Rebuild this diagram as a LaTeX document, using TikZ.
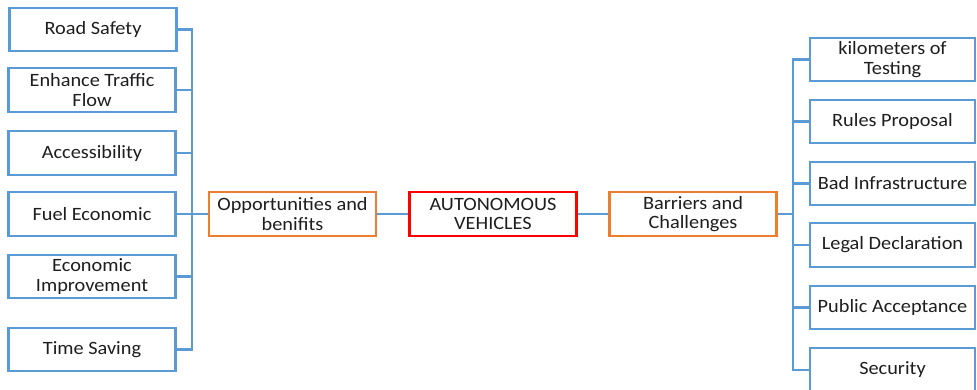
\documentclass[tikz,border=0pt]{standalone}
\usepackage{fontspec}
\setmainfont{Carlito}[FakeStretch=1.08]
\definecolor{leafblue}{HTML}{5B9BD5}
\definecolor{huborange}{HTML}{ED7D31}
\definecolor{rootred}{HTML}{FF0000}
\definecolor{txt}{HTML}{1E1E1E}
\begin{document}
\begin{tikzpicture}[x=1pt,y=-1pt,
  box/.style={draw, line width=2.4pt, fill=white, align=center, text=txt,
    font=\fontsize{18.8}{19.5}\selectfont, inner sep=0pt,
    minimum width=#1, minimum height=43.5},
  box/.default=167,
  leaf/.style={box, draw=leafblue},
  hub/.style={box, draw=huborange},
  root/.style={box, draw=rootred},
  conn/.style={draw=leafblue, line width=2.4pt}]
\useasboundingbox (0,0) rectangle (977,389);

% connectors first, so the boxes sit on top of them
\coordinate (lbus) at (192,214);
\coordinate (rbus) at (793,214);

% left branch: benefits
\node[leaf] (rs)  at (93,29.5)  {Road Safety};
\node[leaf] (etf) at (92,90)    {Enhance Traffic\\Flow};
\node[leaf] (acc) at (92,153)   {Accessibility};
\node[leaf] (fe)  at (92,214)   {Fuel Economic};
\node[leaf] (ei)  at (92,276.5) {Economic\\Improvement};
\node[leaf] (ts)  at (92,349.5) {Time Saving};

% centre chain
\node[hub]  (opp)  at (292.5,214) {Opportunities and\\benifits};
\node[root] (av)   at (493,214)   {AUTONOMOUS\\VEHICLES};
\node[hub]  (barr) at (693,214)   {Barriers and\\Challenges};

% right branch: barriers
\node[leaf, minimum width=165] (km) at (892.5,59.5)  {kilometers of\\Testing};
\node[leaf, minimum width=165] (rp) at (892.5,121.5) {Rules Proposal};
\node[leaf, minimum width=165] (bi) at (892.5,183.5) {Bad Infrastructure};
\node[leaf, minimum width=165] (ld) at (892.5,245)   {Legal Declaration};
\node[leaf, minimum width=165] (pa) at (892.5,307.5) {Public Acceptance};
\node[leaf, minimum width=165] (sec) at (892.5,370)  {Security};

\foreach \n in {rs,etf,acc,fe,ei,ts}
  \draw[conn] (\n.east) -| (lbus);
\draw[conn] (lbus) -- (opp.west);
\draw[conn] (opp.east) -- (av.west);
\draw[conn] (av.east) -- (barr.west);
\draw[conn] (barr.east) -- (rbus);
\foreach \n in {km,rp,bi,ld,pa,sec}
  \draw[conn] (rbus) |- (\n.west);
\end{tikzpicture}
\end{document}
